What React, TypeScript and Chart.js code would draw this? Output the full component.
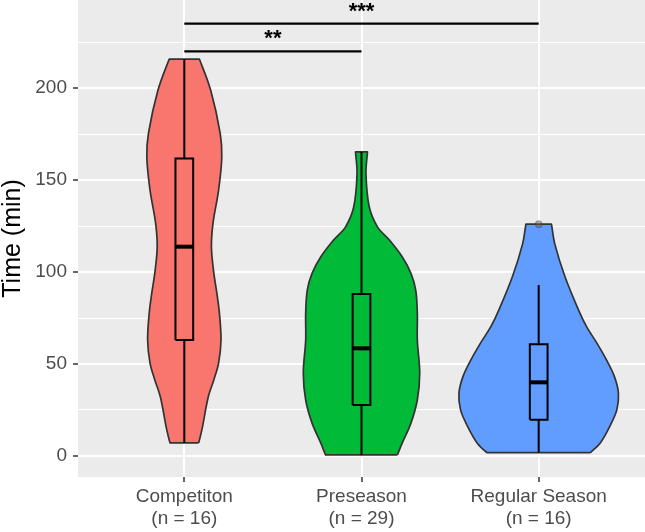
import React, { useEffect, useRef } from 'react';
import { Chart, registerables } from 'chart.js';

Chart.register(...registerables);

// ---------- data ----------
const categories = ['Competiton', 'Preseason', 'Regular Season'];
const sampleSizes = [16, 29, 16];
const fillColors = ['#F8766D', '#00BA38', '#619CFF'];

// violin profiles: y levels and relative half-width (1 = widest violin)
const competitionY = [7.1, 14.1, 32, 41.3, 50.5, 63, 77.7, 88, 99.5, 113.6, 126.6, 144.6, 162.5, 175.5, 199, 215.8];
const competitionDensity = [0.18, 0.22, 0.3, 0.37, 0.43, 0.46, 0.44, 0.41, 0.37, 0.34, 0.36, 0.43, 0.47, 0.45, 0.33, 0.19];

const preseasonY = [0.5, 6.9, 17.8, 30.4, 45, 63, 77.6, 90.2, 99.3, 108.3, 117.4, 124.6, 135.5, 153.6, 165.4];
const preseasonDensity = [0.45, 0.51, 0.62, 0.7, 0.73, 0.7, 0.7, 0.68, 0.62, 0.51, 0.35, 0.2, 0.097, 0.056, 0.075];

const regularY = [1.8, 6.9, 15.9, 25, 34.1, 43.1, 52.2, 61.3, 70.3, 79.3, 97.4, 115.6, 126.1];
const regularDensity = [0.65, 0.77, 0.89, 0.98, 1.0, 0.95, 0.85, 0.73, 0.6, 0.5, 0.33, 0.2, 0.16];

const boxMin = [7.1, 0.5, 1.8];
const boxQ1 = [63, 27.7, 19.6];
const boxMedian = [113.8, 58.5, 40];
const boxQ3 = [161.8, 88, 60.7];
const boxMax = [215.8, 165.4, 92.9];

const outlierGroups = [3];
const outlierValues = [126];

const yMajorTicks = [0, 50, 100, 150, 200];
const yMinorTicks = [25, 75, 125, 175, 225];

const sigFrom = [1, 1];
const sigTo = [2, 3];
const sigLineY = [220.1, 235.2];
const sigLabels = ['**', '***'];
const sigLabelY = [230.2, 245.2];

// ---------- styling / geometry ----------
const MAX_HALF_WIDTH = 0.45;
const BOX_HALF_WIDTH = 0.05;
const FONT = '"Liberation Sans", Arial, sans-serif';

function violinPoints(center: number, ys: number[], dens: number[]) {
  const hw = dens.map((d) => d * MAX_HALF_WIDTH);
  const n = ys.length;
  const pts: { x: number; y: number }[] = [];
  for (let i = 0; i < n; i++) pts.push({ x: center + hw[i], y: ys[i] });
  pts.push({ x: center + hw[n - 1] * 0.97, y: ys[n - 1] });
  pts.push({ x: center - hw[n - 1] * 0.97, y: ys[n - 1] });
  for (let i = n - 1; i >= 0; i--) pts.push({ x: center - hw[i], y: ys[i] });
  pts.push({ x: center - hw[0] * 0.97, y: ys[0] });
  pts.push({ x: center + hw[0] * 0.97, y: ys[0] });
  pts.push({ x: center + hw[0], y: ys[0] });
  return pts;
}

const bgPlugin = {
  id: 'panelBg',
  beforeDraw(chart: any) {
    const { ctx, chartArea } = chart;
    ctx.save();
    ctx.fillStyle = '#FFFFFF';
    ctx.fillRect(0, 0, chart.width, chart.height);
    ctx.fillStyle = '#EBEBEB';
    ctx.fillRect(chartArea.left, chartArea.top, chartArea.right - chartArea.left, chartArea.bottom - chartArea.top);
    ctx.restore();
  },
};

const starPlugin = {
  id: 'sigStars',
  afterDatasetsDraw(chart: any) {
    const { ctx } = chart;
    const xs = chart.scales.x;
    const ys = chart.scales.y;
    const size = 22;
    ctx.save();
    ctx.fillStyle = '#000000';
    ctx.font = `bold ${size}px ${FONT}`;
    ctx.textAlign = 'center';
    ctx.textBaseline = 'alphabetic';
    for (let i = 0; i < sigLabels.length; i++) {
      const px = xs.getPixelForValue((sigFrom[i] + sigTo[i]) / 2);
      const py = ys.getPixelForValue(sigLabelY[i]);
      ctx.fillText(sigLabels[i], px, py + size * 0.57);
    }
    ctx.restore();
  },
};

export default function App() {
  const ref = useRef<HTMLCanvasElement | null>(null);

  useEffect(() => {
    if (!ref.current) return;
    const profiles = [
      [competitionY, competitionDensity],
      [preseasonY, preseasonDensity],
      [regularY, regularDensity],
    ];
    const datasets: any[] = [];
    profiles.forEach(([ys, ds], i) => {
      datasets.push({
        data: violinPoints(i + 1, ys as number[], ds as number[]),
        borderColor: '#333333',
        borderWidth: 1.7,
        backgroundColor: fillColors[i],
        fill: 'shape',
        tension: 0.35,
        order: 5,
      });
    });
    for (let i = 0; i < 3; i++) {
      const c = i + 1;
      const base = { borderColor: '#000000', backgroundColor: 'transparent', fill: false, tension: 0, order: 3, borderWidth: 2 };
      datasets.push({
        ...base,
        data: [
          { x: c - BOX_HALF_WIDTH, y: boxQ1[i] },
          { x: c + BOX_HALF_WIDTH, y: boxQ1[i] },
          { x: c + BOX_HALF_WIDTH, y: boxQ3[i] },
          { x: c - BOX_HALF_WIDTH, y: boxQ3[i] },
          { x: c - BOX_HALF_WIDTH, y: boxQ1[i] },
        ],
      });
      datasets.push({ ...base, data: [{ x: c, y: boxQ3[i] }, { x: c, y: boxMax[i] }] });
      datasets.push({ ...base, data: [{ x: c, y: boxMin[i] }, { x: c, y: boxQ1[i] }] });
      datasets.push({
        ...base,
        borderWidth: 4,
        data: [{ x: c - BOX_HALF_WIDTH, y: boxMedian[i] }, { x: c + BOX_HALF_WIDTH, y: boxMedian[i] }],
      });
    }
    datasets.push({
      data: outlierGroups.map((g, i) => ({ x: g, y: outlierValues[i] })),
      showLine: false,
      pointRadius: 3.5,
      pointBackgroundColor: 'rgba(90,90,90,0.45)',
      pointBorderColor: 'rgba(60,60,60,0.45)',
      pointBorderWidth: 1,
      order: 1,
    });
    for (let i = 0; i < sigLabels.length; i++) {
      datasets.push({
        data: [{ x: sigFrom[i], y: sigLineY[i] }, { x: sigTo[i], y: sigLineY[i] }],
        borderColor: '#000000',
        borderWidth: 2.2,
        fill: false,
        tension: 0,
        order: 2,
      });
    }

    const chart = new Chart(ref.current, {
      type: 'line',
      data: { datasets },
      plugins: [bgPlugin, starPlugin],
      options: {
        responsive: false,
        animation: false,
        devicePixelRatio: 1,
        events: [],
        layout: { padding: 0, autoPadding: false },
        elements: { point: { radius: 0, hitRadius: 0 }, line: { capBezierPoints: false } },
        plugins: { legend: { display: false }, tooltip: { enabled: false }, title: { display: false } },
        scales: {
          x: {
            type: 'linear',
            min: 0.4,
            max: 3.6,
            afterBuildTicks: (scale: any) => {
              scale.ticks = [1, 2, 3].map((v) => ({ value: v }));
            },
            afterFit: (scale: any) => {
              scale.height = 55;
              scale.paddingLeft = 0;
              scale.paddingRight = 0;
            },
            border: { display: false },
            grid: {
              color: '#FFFFFF',
              lineWidth: 2,
              drawTicks: true,
              tickLength: 5,
              tickColor: '#333333',
              tickWidth: 1.5,
            },
            ticks: {
              autoSkip: false,
              maxRotation: 0,
              padding: 4,
              color: '#4D4D4D',
              font: { family: FONT, size: 19, lineHeight: 1.15 },
              callback: (v: any) => {
                const i = Math.round(Number(v)) - 1;
                return [categories[i], `(n = ${sampleSizes[i]})`];
              },
            },
          },
          y: {
            type: 'linear',
            min: -11.5,
            max: 248,
            afterBuildTicks: (scale: any) => {
              scale.ticks = [...yMajorTicks, ...yMinorTicks].sort((a, b) => a - b).map((v) => ({ value: v }));
            },
            afterFit: (scale: any) => {
              scale.width = 78;
              scale.paddingTop = 0;
              scale.paddingBottom = 0;
            },
            border: { display: false },
            grid: {
              color: '#FFFFFF',
              lineWidth: (ctx: any) => (yMajorTicks.includes(ctx.tick?.value) ? 2 : 1),
              drawTicks: true,
              tickLength: 5,
              tickColor: (ctx: any) => (yMajorTicks.includes(ctx.tick?.value) ? '#333333' : 'rgba(0,0,0,0)'),
              tickWidth: 1.5,
            },
            ticks: {
              autoSkip: false,
              padding: 6,
              color: '#4D4D4D',
              font: { family: FONT, size: 19 },
              callback: (v: any) => (yMajorTicks.includes(Number(v)) ? String(v) : ''),
            },
            title: {
              display: true,
              text: 'Time (min)',
              color: '#000000',
              padding: 0,
              font: { family: FONT, size: 25, lineHeight: 1.05 },
            },
          },
        },
      } as any,
    });
    return () => chart.destroy();
  }, []);

  return (
    <div style={{ position: 'fixed', left: 0, top: 0, width: 645, height: 532, background: '#FFFFFF' }}>
      <canvas ref={ref} width={645} height={532} style={{ display: 'block' }} />
    </div>
  );
}
